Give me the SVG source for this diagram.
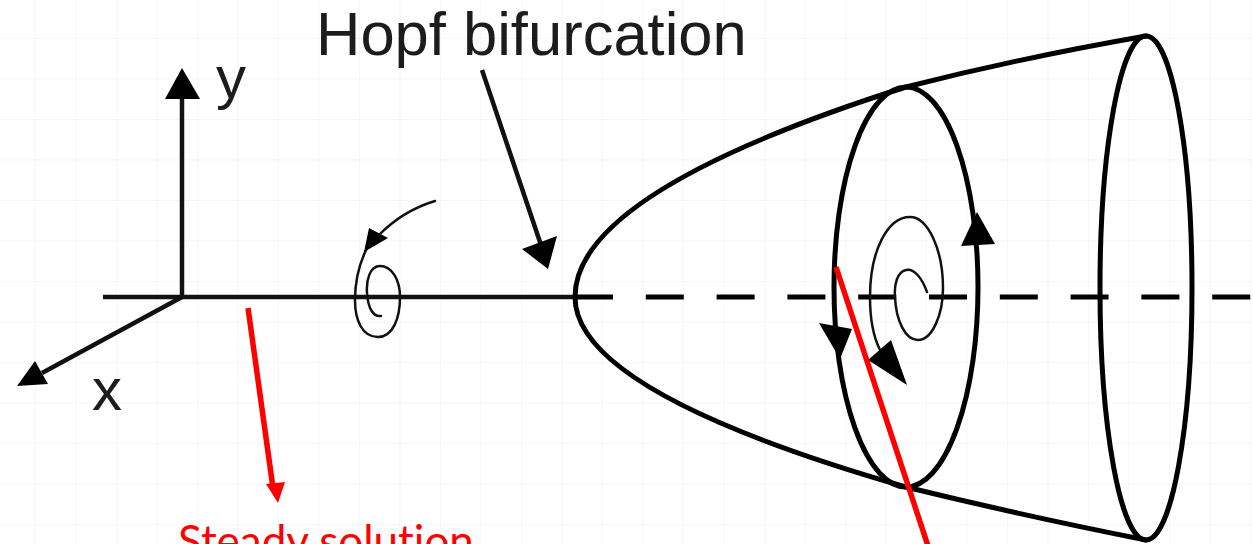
<svg xmlns="http://www.w3.org/2000/svg" width="1253" height="544" viewBox="0 0 1253 544">
  <defs>
    <pattern id="grid" x="35" y="38" width="40.5" height="40.5" patternUnits="userSpaceOnUse">
      <path d="M0,0 V40.5 M0,0 H40.5" fill="none" stroke="#f3f3f3" stroke-width="1.5"/>
    </pattern>
  </defs>
  <style>
    .bk { fill: none; stroke: #000; stroke-width: 5; stroke-linecap: round; stroke-linejoin: round; }
    .thin { fill: none; stroke: #111; stroke-width: 2.5; stroke-linecap: round; }
    .ax { fill: none; stroke: #111; stroke-width: 4.5; }
    .head { fill: #000; stroke: none; }
    .red { fill: none; stroke: #ff0000; stroke-width: 5.5; }
    .redhead { fill: #ff0000; stroke: none; }
    .lbl { font-family: "Liberation Sans", Arial, sans-serif; fill: #1c1c1c; }
    .rlbl { font-family: Lato, "Open Sans", sans-serif; fill: #ff0000; font-variant-ligatures: none; }
  </style>
  <rect width="1253" height="544" fill="#ffffff"/>
  <rect width="1253" height="544" fill="url(#grid)"/>

  <g id="axes">
    <line class="ax" x1="103" y1="297" x2="575" y2="297"/>
    <line class="ax" x1="182" y1="297" x2="182" y2="96"/>
    <polygon class="head" points="182,68 165,99 200,99"/>
    <line class="ax" x1="182" y1="297" x2="42" y2="373"/>
    <polygon class="head" points="17,386 35,361 48,384"/>
    <text class="lbl" x="216" y="98" font-size="60">y</text>
    <text class="lbl" x="92" y="410" font-size="60">x</text>
  </g>

  <g id="unstable-branch">
    <line x1="575" y1="297" x2="1253" y2="297" stroke="#000" stroke-width="5" stroke-dasharray="38 32.8"/>
  </g>

  <g id="stable-focus">
    <path class="thin" d="M435,201 Q402,211 378,236"/>
    <path class="thin" d="M367,248 C360,262 355,280 355,300 C355,320 362,337 378,337 C393,337 400,318 400,297 C400,280 392,266 380,266 C370,266 366,280 367,293 C368,308 373,317 381,316"/>
    <polygon class="head" points="364,252 369,228 388,238"/>
  </g>

  <g id="paraboloid">
    <path class="bk" d="M1146,36 Q1020,58 906,87 Q575,192 575,297 Q575,392 906,487 Q1020,515 1146,540"/>
    <ellipse class="bk" cx="1146" cy="288" rx="46" ry="252"/>
  </g>

  <g id="limit-cycle">
    <ellipse class="bk" cx="906" cy="287" rx="72" ry="200"/>
    <polygon class="head" points="977,212 961,246 995,244"/>
    <polygon class="head" points="840,359 819,323 852,329"/>
    <path class="thin" d="M927,292 C922,278 914,268 906,270 C897,272 894,285 895,297 C896,320 905,340 918,340 C932,340 943,315 943,288 C943,250 928,217 910,217 C888,217 870,250 870,297 C870,320 874,338 880,350"/>
    <polygon class="head" points="907,385 868,360 891,340"/>
  </g>

  <g id="hopf-label">
    <text class="lbl" x="316" y="55" font-size="61.5">Hopf bifurcation</text>
  </g>

  <g id="connectors">
    <line class="ax" x1="482" y1="70" x2="541" y2="245"/>
    <polygon class="head" points="548,269 522,249 557,236"/>
    <line class="red" x1="248" y1="308" x2="273" y2="488"/>
    <polygon class="redhead" points="278,503 266,484 285,482"/>
    <line class="red" x1="836" y1="267" x2="928" y2="546"/>
  </g>

  <g id="steady-label">
    <text class="rlbl" x="178" y="557" font-size="44">Steady solution</text>
  </g>
</svg>
